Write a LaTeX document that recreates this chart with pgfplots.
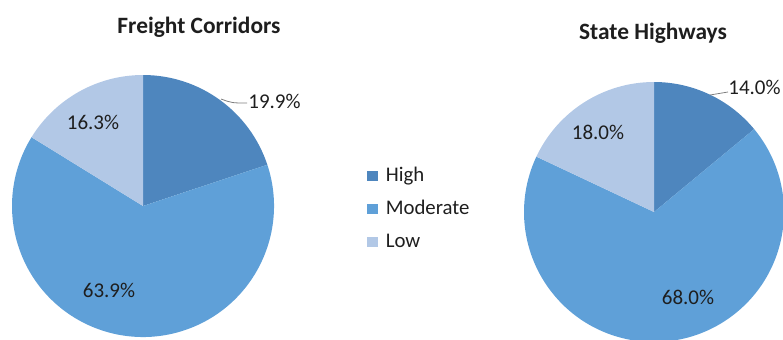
\documentclass[border=0pt]{standalone}
\usepackage{pgfplots}
\pgfplotsset{compat=1.18}
\usepackage{pgfplotstable}
\usepackage{fontspec}
\setmainfont{Carlito}

\definecolor{highc}{HTML}{4E86BE}
\definecolor{modc}{HTML}{5FA0D8}
\definecolor{lowc}{HTML}{B2C8E6}
\definecolor{txt}{HTML}{1E1E1E}
\definecolor{lead}{HTML}{7F7F7F}

% Shares (%) in the order High, Moderate, Low
\pgfplotstableread{
share
19.9
63.9
16.3
}\freight
\pgfplotstableread{
share
14.0
68.0
18.0
}\highways

% Slices start at 12 o'clock and run clockwise
\newcommand\sliceangles[2]{%
  \pgfplotstablegetelem{0}{share}\of#1\edef\va{\pgfplotsretval}%
  \pgfplotstablegetelem{1}{share}\of#1\edef\vb{\pgfplotsretval}%
  \pgfmathsetmacro\aone{90-3.6*\va}%
  \pgfmathsetmacro\atwo{\aone-3.6*\vb}%
  \expandafter\xdef\csname #2one\endcsname{\aone}%
  \expandafter\xdef\csname #2two\endcsname{\atwo}%
}
\sliceangles{\freight}{FC}
\sliceangles{\highways}{SH}

% one axis unit = 0.5pt
\newcommand\slice[6]{%
  \fill[#6] (axis cs:#1,#2) -- ++(#4:#3*0.5pt)
    arc[start angle=#4, end angle=#5, radius=#3*0.5pt] -- cycle;}

\begin{document}
\begin{tikzpicture}
\clip (0,0) rectangle (391.5pt,169.5pt);
\begin{axis}[
  at={(0,0)}, anchor=south west,
  scale only axis, width=391.5pt, height=169.5pt,
  xmin=0, xmax=783, ymin=0, ymax=339,
  hide axis,
  legend image code/.code={\fill[#1,draw=none] (0pt,-2.6pt) rectangle (5.2pt,2.6pt);
    \path[draw=none,fill=none] (0pt,0pt) -- (9.2pt,0pt);},
  legend style={at={(axis cs:367,173)}, anchor=north west, draw=none, fill=none,
    font=\fontsize{10.4}{12}\selectfont, text=txt,
    row sep=7.0pt, inner sep=0pt,
    nodes={inner sep=0pt, text height=7.3pt, text depth=2.2pt}},
  legend cell align=left,
]
% Freight Corridors
\slice{143}{133}{131}{90}{\FCone}{highc}
\slice{143}{133}{131}{\FCone}{\FCtwo}{modc}
\slice{143}{133}{131}{\FCtwo}{-270}{lowc}
% State Highways
\slice{654}{127}{130}{90}{\SHone}{highc}
\slice{654}{127}{130}{\SHone}{\SHtwo}{modc}
\slice{654}{127}{130}{\SHtwo}{-270}{lowc}

\addlegendimage{fill=highc}
\addlegendentry{High}
\addlegendimage{fill=modc}
\addlegendentry{Moderate}
\addlegendimage{fill=lowc}
\addlegendentry{Low}

\begin{scope}[font=\fontsize{11.7}{13}\selectfont\bfseries, text=txt]
\node at (axis cs:199,312) {Freight Corridors};
\node at (axis cs:653,306) {State Highways};
\end{scope}

\begin{scope}[font=\fontsize{10.5}{12}\selectfont, text=txt]
\draw[lead, line width=0.4pt] (axis cs:221,240) .. controls (axis cs:232,236) .. (axis cs:247,236);
\node[anchor=west, inner sep=0.5pt] at (axis cs:247,238) {19.9\%};
\node at (axis cs:93,217) {16.3\%};
\node at (axis cs:109,49) {63.9\%};
\draw[lead, line width=0.4pt] (axis cs:710,244) -- (axis cs:728,247);
\node[anchor=east, inner sep=0.5pt] at (axis cs:782,252) {14.0\%};
\node at (axis cs:598,207) {18.0\%};
\node at (axis cs:688,42) {68.0\%};
\end{scope}
\end{axis}
\end{tikzpicture}
\end{document}
